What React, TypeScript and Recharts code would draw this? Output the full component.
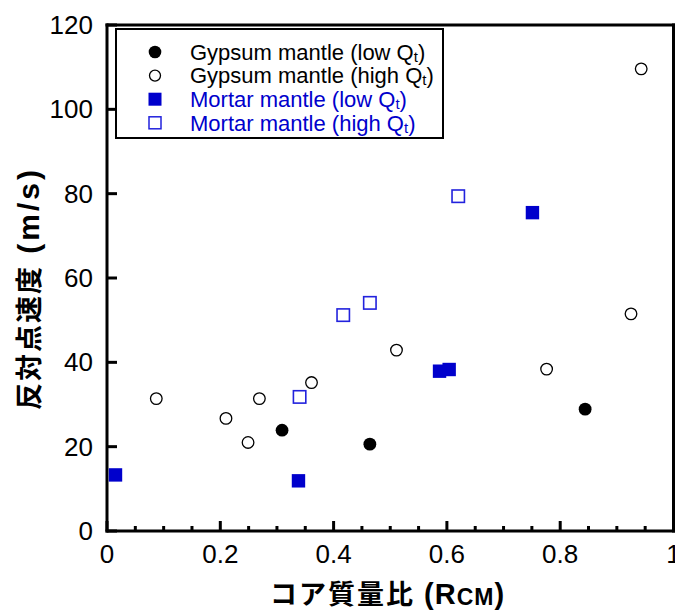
import React from 'react';
import { ScatterChart, Scatter, XAxis, YAxis } from 'recharts';

// values
const gypsumLow = [
  { x: 0.309, y: 23.9 },
  { x: 0.464, y: 20.6 },
  { x: 0.844, y: 28.9 },
];

const gypsumHigh = [
  { x: 0.087, y: 31.4 },
  { x: 0.21, y: 26.7 },
  { x: 0.249, y: 21.0 },
  { x: 0.269, y: 31.4 },
  { x: 0.361, y: 35.2 },
  { x: 0.511, y: 42.9 },
  { x: 0.776, y: 38.4 },
  { x: 0.925, y: 51.5 },
  { x: 0.943, y: 109.6 },
];

const mortarLow = [
  { x: 0.015, y: 13.3 },
  { x: 0.338, y: 11.9 },
  { x: 0.587, y: 37.9 },
  { x: 0.604, y: 38.3 },
  { x: 0.751, y: 75.5 },
];

const mortarHigh = [
  { x: 0.34, y: 31.8 },
  { x: 0.417, y: 51.2 },
  { x: 0.464, y: 54.1 },
  { x: 0.62, y: 79.4 },
];

const xTicks = [0, 0.05, 0.1, 0.15, 0.2, 0.25, 0.3, 0.35, 0.4, 0.45, 0.5, 0.55, 0.6, 0.65, 0.7, 0.75, 0.8, 0.85, 0.9, 0.95, 1];
const xLabels = ['0', '0.2', '0.4', '0.6', '0.8', '1'];
const yTicks = [0, 20, 40, 60, 80, 100, 120];

const legendItems = [
  { name: 'Gypsum mantle (low Q', sub: 't', color: '#000', marker: 'filledCircle' },
  { name: 'Gypsum mantle (high Q', sub: 't', color: '#000', marker: 'openCircle' },
  { name: 'Mortar mantle (low Q', sub: 't', color: '#0000cc', marker: 'filledSquare' },
  { name: 'Mortar mantle (high Q', sub: 't', color: '#0000cc', marker: 'openSquare' },
];

const FONT = '"Liberation Sans", Arial, Helvetica, sans-serif';
const JFONT = '"Liberation Sans", Arial, "Noto Sans CJK JP", sans-serif';
const BLUE = '#0000cc';

const majorIndex = (v: number) => {
  const i = Math.round(v * 5);
  return Math.abs(v * 5 - i) < 1e-6 ? i : -1;
};

function BottomTick({ x, y, payload }: any) {
  const i = majorIndex(payload.value);
  return (
    <g>
      <line x1={x} y1={y} x2={x} y2={y - (i >= 0 ? 10 : 5)} stroke="#000" strokeWidth={3} />
      {i >= 0 && (
        <text x={x} y={y + 32} textAnchor="middle" fontSize={26} fill="#000" style={{ fontFamily: FONT }}>
          {xLabels[i]}
        </text>
      )}
    </g>
  );
}

function TopTick({ x, y, payload }: any) {
  const i = majorIndex(payload.value);
  return <line x1={x} y1={y} x2={x} y2={y + (i >= 0 ? 10 : 5)} stroke="#000" strokeWidth={3} />;
}

function LeftTick({ x, y, payload }: any) {
  return (
    <g>
      <line x1={x} y1={y} x2={x + 10} y2={y} stroke="#000" strokeWidth={3} />
      <text x={x - 14} y={y + 9} textAnchor="end" fontSize={26} fill="#000" style={{ fontFamily: FONT }}>
        {payload.value}
      </text>
    </g>
  );
}

function RightTick({ x, y }: any) {
  return <line x1={x} y1={y} x2={x - 10} y2={y} stroke="#000" strokeWidth={3} />;
}

function XTitle() {
  return (
    <text x={270} y={604} fontWeight="bold" fill="#000" style={{ fontFamily: JFONT }}>
      <tspan fontSize={27} letterSpacing={2}>コア質量比</tspan>
      <tspan fontSize={29} letterSpacing={1}> (R</tspan>
      <tspan fontSize={23} dy={1} letterSpacing={1}>CM</tspan>
      <tspan fontSize={29} dy={-1}>)</tspan>
    </text>
  );
}

function YTitle() {
  return (
    <text
      x={39}
      y={410}
      transform="rotate(-90, 39, 410)"
      fontWeight="bold"
      fill="#000"
      style={{ fontFamily: JFONT }}
    >
      <tspan fontSize={27} letterSpacing={2}>反対点速度</tspan>
      <tspan fontSize={30} letterSpacing={3}> (m/s)</tspan>
    </text>
  );
}

const FilledCircle = ({ cx, cy }: any) => <circle cx={cx} cy={cy} r={6.4} fill="#000" />;
const OpenCircle = ({ cx, cy }: any) => (
  <circle cx={cx} cy={cy} r={5.8} fill="none" stroke="#000" strokeWidth={1.3} />
);
const FilledSquare = ({ cx, cy }: any) => (
  <rect x={cx - 6.7} y={cy - 6.7} width={13.4} height={13.4} fill={BLUE} />
);
const OpenSquare = ({ cx, cy }: any) => (
  <rect x={cx - 6.2} y={cy - 6.2} width={12.4} height={12.4} fill="none" stroke="#2222dd" strokeWidth={1.6} />
);

function LegendMarker({ kind, cx, cy }: { kind: string; cx: number; cy: number }) {
  if (kind === 'filledCircle') return <circle cx={cx} cy={cy} r={6.3} fill="#000" />;
  if (kind === 'openCircle') return <circle cx={cx} cy={cy} r={5.5} fill="none" stroke="#000" strokeWidth={1.3} />;
  if (kind === 'filledSquare') return <rect x={cx - 6.5} y={cy - 6.5} width={13} height={13} fill={BLUE} />;
  return <rect x={cx - 6} y={cy - 6} width={12} height={12} fill="none" stroke="#2222dd" strokeWidth={1.5} />;
}

function LegendBox() {
  return (
    <svg
      width={330}
      height={114}
      style={{ position: 'absolute', left: 115, top: 28, pointerEvents: 'none' }}
    >
      <rect x={1} y={1} width={327} height={109} fill="#fff" stroke="#000" strokeWidth={2} />
      {legendItems.map((item, i) => {
        const cy = 24 + i * 23.6;
        return (
          <g key={item.name}>
            <LegendMarker kind={item.marker} cx={40} cy={cy} />
            <text x={75} y={cy + 7.8} fontSize={22} fill={item.color} style={{ fontFamily: FONT }}>
              {item.name}
              <tspan fontSize={15} dy={2}>{item.sub}</tspan>
              <tspan dy={-2}>)</tspan>
            </text>
          </g>
        );
      })}
    </svg>
  );
}

export default function App() {
  const axisLine = { stroke: '#000', strokeWidth: 3, strokeLinecap: 'square' as const };
  return (
    <div style={{ position: 'absolute', left: 0, top: 0, width: 675, height: 612, background: '#fff' }}>
      <ScatterChart width={675} height={612} margin={{ top: 0, right: 0, bottom: 0, left: 0 }}>
        <XAxis
          xAxisId={0}
          type="number"
          dataKey="x"
          domain={[0, 1]}
          ticks={xTicks}
          interval={0}
          height={81}
          tickSize={0}
          tickMargin={0}
          tickLine={false}
          axisLine={axisLine}
          tick={<BottomTick />}
          label={<XTitle />}
        />
        <XAxis
          xAxisId="top"
          orientation="top"
          type="number"
          dataKey="x"
          domain={[0, 1]}
          ticks={xTicks}
          interval={0}
          height={25}
          tickSize={0}
          tickMargin={0}
          tickLine={false}
          axisLine={axisLine}
          tick={<TopTick />}
        />
        <YAxis
          yAxisId={0}
          type="number"
          dataKey="y"
          domain={[0, 120]}
          ticks={yTicks}
          interval={0}
          width={107}
          tickSize={0}
          tickMargin={0}
          tickLine={false}
          axisLine={axisLine}
          tick={<LeftTick />}
          label={<YTitle />}
        />
        <YAxis
          yAxisId="right"
          orientation="right"
          type="number"
          dataKey="y"
          domain={[0, 120]}
          ticks={yTicks}
          interval={0}
          width={1.5}
          tickSize={0}
          tickMargin={0}
          tickLine={false}
          axisLine={axisLine}
          tick={<RightTick />}
        />
        <Scatter data={gypsumLow} shape={FilledCircle} isAnimationActive={false} />
        <Scatter data={gypsumHigh} shape={OpenCircle} isAnimationActive={false} />
        <Scatter data={mortarLow} shape={FilledSquare} isAnimationActive={false} />
        <Scatter data={mortarHigh} shape={OpenSquare} isAnimationActive={false} />
      </ScatterChart>
      <LegendBox />
    </div>
  );
}
